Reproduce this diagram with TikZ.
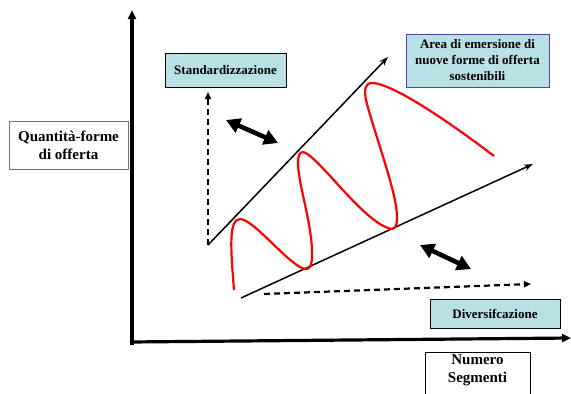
\documentclass[tikz,border=0pt]{standalone}
\usepackage{fontspec}
\setmainfont{Liberation Serif}
\usepackage{xcolor}
\usetikzlibrary{arrows.meta}

\definecolor{tagcyan}{RGB}{185,224,228}
\definecolor{areablue}{RGB}{70,70,165}

\begin{document}
\begin{tikzpicture}[
		x=1pt, y=-1pt,
		axisbox/.style={rectangle, draw=black!55, align=center, inner sep=2pt, font=\bfseries\fontsize{15}{18}\selectfont},
		tagbox/.style={rectangle, draw, fill=tagcyan, align=center, inner sep=2pt, font=\bfseries\fontsize{13}{16}\selectfont},
		axis/.style={-{Triangle[length=9pt,width=8pt]}, line width=3.2pt},
		guide/.style={-{Stealth[length=9pt,width=6.5pt]}, line width=1.5pt},
		trend/.style={-{Triangle[length=7pt,width=6pt]}, line width=2.2pt, dash pattern=on 6pt off 4pt},
		swing/.style={{Triangle[length=14pt,width=15pt]}-{Triangle[length=14pt,width=15pt]}, line width=4.6pt},
		wave/.style={red, line width=2.2pt, line join=round}
		]

		\clip (0,0) rectangle (571,394);

		% axes
		\coordinate (ytop) at (132,10);
		\coordinate (xend) at (571,338);
		\draw[axis] (132,345) -- (ytop);
		\draw[axis] (130,342) -- (xend);

		% labels
		\node[axisbox, minimum width=119pt, minimum height=48pt] (qty) at (68.5,145) {Quantità-forme\\di offerta};
		\node[axisbox, draw=black, minimum width=105pt, minimum height=50pt, anchor=north] (seg) at (477.5,352) {Numero\\Segmenti\\[6pt]};
		\node[tagbox, minimum width=121pt, minimum height=34pt] (std) at (225.5,70) {Standardizzazione};
		\node[tagbox, draw=areablue, minimum width=143pt, minimum height=53pt] (area) at (477.5,60.5) {Area di emersione di\\nuove forme di offerta\\sostenibili};
		\node[tagbox, minimum width=130pt, minimum height=29pt] (div) at (495,313.5) {Diversifcazione};

		% funnel
		\coordinate (upstart) at (208,245);
		\coordinate (upend) at (388,57);
		\coordinate (lowstart) at (241,298);
		\coordinate (lowend) at (533,164);
		\draw[guide] (upstart) -- (upend);
		\draw[guide] (lowstart) -- (lowend);

		% dashed trends
		\coordinate (stdtip) at (208,92);
		\coordinate (divstart) at (264,294);
		\coordinate (divtip) at (531,284);
		\draw[trend] (upstart) -- (stdtip);
		\draw[trend] (divstart) -- (divtip);

		% double arrows
		\coordinate (sw1a) at (226,120);
		\coordinate (sw1b) at (278,143);
		\coordinate (sw2a) at (420,245);
		\coordinate (sw2b) at (471,269);
		\draw[swing] (sw1a) -- (sw1b);
		\draw[swing] (sw2a) -- (sw2b);

		% red wave
		\draw[wave] (234,290) .. controls (231,252) and (228,219) .. (240,219)
			.. controls (254,219) and (292,269) .. (306,269)
			.. controls (313,269) and (313,255) .. (311,238)
			.. controls (308,212) and (298,180) .. (298,163)
			.. controls (298,155) and (300,152) .. (303,152)
			.. controls (318,155) and (365,225) .. (392,229)
			.. controls (397,229) and (398,220) .. (396,206)
			.. controls (392,180) and (372,125) .. (366,100)
			.. controls (364,90) and (365,83) .. (372,83)
			.. controls (390,83) and (440,115) .. (494,156);
	\end{tikzpicture}
\end{document}
